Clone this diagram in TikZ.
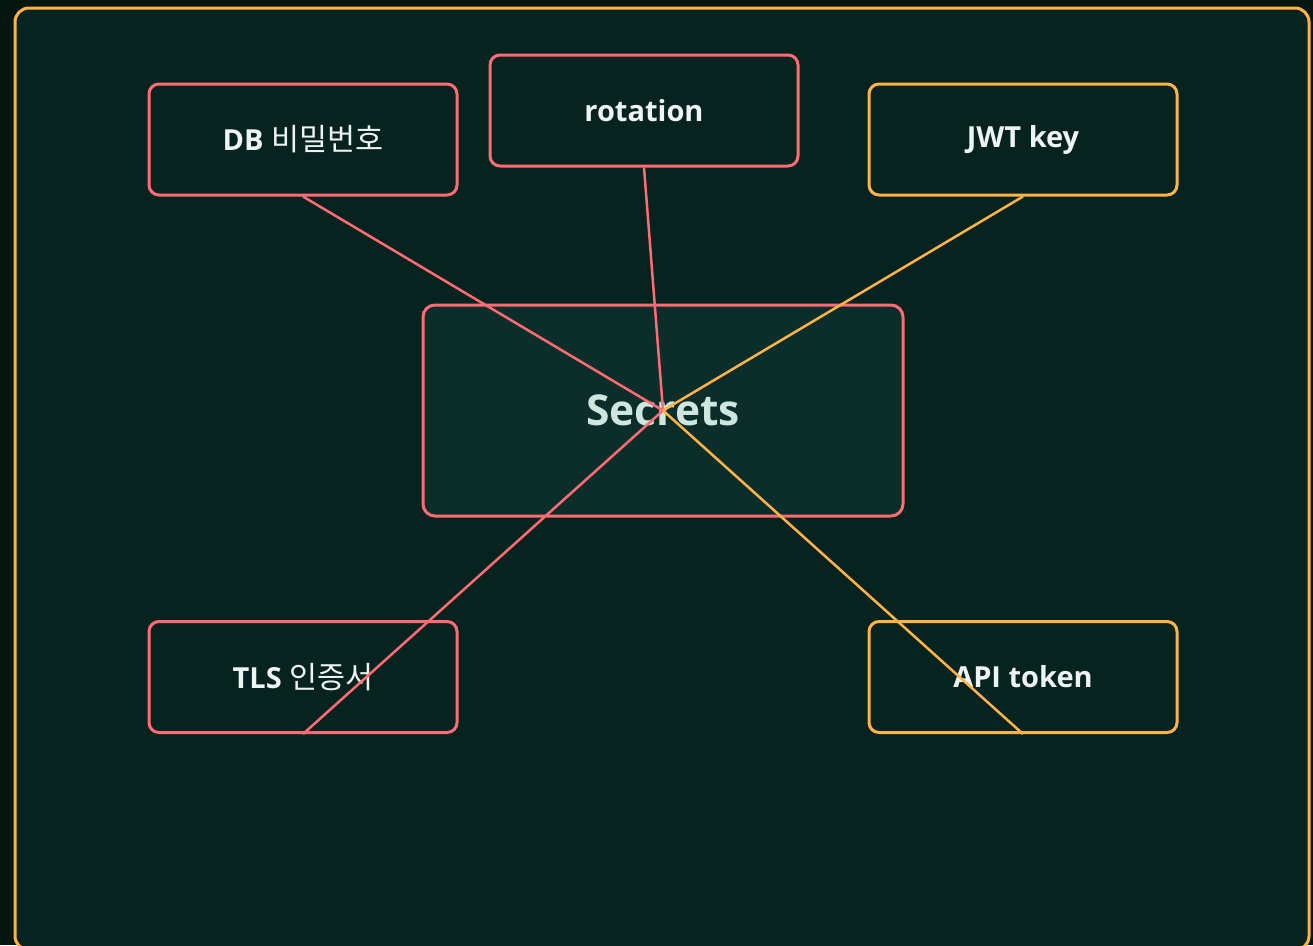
\documentclass[tikz,border=0pt]{standalone}
\usepackage{fontspec}
\setmainfont{Open Sans}
\newfontfamily\kr{Noto Sans CJK KR}[Scale=1.05]
\usetikzlibrary{positioning}
\definecolor{bgout}{HTML}{04160F}
\definecolor{bgin}{HTML}{072320}
\definecolor{hub}{HTML}{0B2E2B}
\definecolor{coral}{HTML}{FF6B72}
\definecolor{amber}{HTML}{FFB347}
\definecolor{txt}{HTML}{EEF4F2}
\definecolor{mint}{HTML}{CFE6DE}

\begin{document}
\begin{tikzpicture}[
  x=1pt, y=-1pt,
  item/.style={draw=#1, line width=3pt, rounded corners=10pt, fill=bgin,
               minimum width=308pt, minimum height=111pt, align=center,
               text=txt, font=\fontsize{29}{34}\selectfont\bfseries},
  core/.style={draw=coral, line width=3pt, rounded corners=12pt, fill=hub,
               minimum width=480pt, minimum height=211pt,
               text=mint, font=\fontsize{42.5}{50}\selectfont\bfseries},
  link/.style={draw=#1, line width=2.5pt},
]
\fill[bgout] (0,0) rectangle (1313,945);
\useasboundingbox (0,0) rectangle (1313,945);
\draw[amber, line width=3pt, fill=bgin, rounded corners=14pt] (15,8) rectangle (1309,950);

\node[core]       (sec)  at (663,410.5) {Secrets};
\node[item=coral] (db)   at (303,139.5) {DB {\kr\mdseries 비밀번호}};
\node[item=coral] (rot)  at (644,110.5) {rotation};
\node[item=amber] (jwt)  at (1023,139.5) {JWT key};
\node[item=coral] (tls)  at (303,677)   {TLS {\kr\mdseries 인증서}};
\node[item=amber] (api)  at (1023,677)  {API token};

\draw[link=coral] (sec.center) -- (db.south);
\draw[link=coral] (sec.center) -- (rot.south);
\draw[link=amber] (sec.center) -- (jwt.south);
\draw[link=coral] (sec.center) -- (tls.south);
\draw[link=amber] (sec.center) -- (api.south);
\end{tikzpicture}
\end{document}
